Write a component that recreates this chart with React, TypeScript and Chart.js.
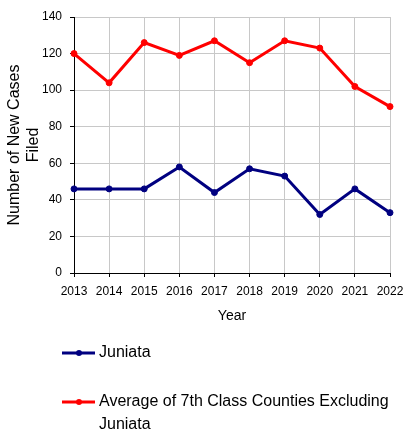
import React, { useEffect, useRef } from "react";
import { Chart, registerables } from "chart.js";

Chart.register(...registerables);

const years = ["2013", "2014", "2015", "2016", "2017", "2018", "2019", "2020", "2021", "2022"];
const juniata = [46, 46, 46, 58, 44, 57, 53, 32, 46, 33];
const avg7th = [120, 104, 126, 119, 127, 115, 127, 123, 102, 91];
const seriesNames = ["Juniata", "Average of 7th Class Counties Excluding Juniata"];
const legendLines = [["Juniata"], ["Average of 7th Class Counties Excluding", "Juniata"]];
const yTitle = ["Number of New Cases", "Filed"];
const xTitle = "Year";

const FONT = "'Liberation Sans', Arial, sans-serif";
const NAVY = "#000080";
const RED = "#ff0000";

const legendPlugin = {
  id: "customLegend",
  afterDraw(chart: any) {
    const ctx = chart.ctx;
    ctx.save();
    const items = [
      { color: NAVY, y: 353, lines: legendLines[0] },
      { color: RED, y: 402, lines: legendLines[1] },
    ];
    for (const it of items) {
      ctx.strokeStyle = it.color;
      ctx.lineWidth = 3;
      ctx.beginPath();
      ctx.moveTo(62, it.y);
      ctx.lineTo(95, it.y);
      ctx.stroke();
      ctx.fillStyle = it.color;
      ctx.beginPath();
      ctx.arc(79, it.y, 3, 0, Math.PI * 2);
      ctx.fill();
      ctx.fillStyle = "#000";
      ctx.font = `16px ${FONT}`;
      ctx.textBaseline = "middle";
      ctx.textAlign = "left";
      it.lines.forEach((t: string, i: number) => {
        ctx.fillText(t, 99, it.y + i * 23);
      });
    }
    ctx.restore();
  },
};

export default function App() {
  const ref = useRef<HTMLCanvasElement | null>(null);
  useEffect(() => {
    document.body.style.margin = "0";
    const chart = new Chart(ref.current as HTMLCanvasElement, {
      type: "line",
      data: {
        labels: years,
        datasets: [
          {
            label: seriesNames[0],
            data: juniata,
            borderColor: NAVY,
            backgroundColor: NAVY,
            borderWidth: 3,
            pointRadius: 3,
            pointBorderWidth: 1,
            pointBackgroundColor: NAVY,
            pointBorderColor: NAVY,
            tension: 0,
          },
          {
            label: seriesNames[1],
            data: avg7th,
            borderColor: RED,
            backgroundColor: RED,
            borderWidth: 3,
            pointRadius: 3,
            pointBorderWidth: 1,
            pointBackgroundColor: RED,
            pointBorderColor: RED,
            tension: 0,
          },
        ],
      },
      options: {
        responsive: false,
        animation: false,
        layout: { padding: { left: 0, right: 22, top: 17, bottom: 109 } },
        plugins: { legend: { display: false }, tooltip: { enabled: false } },
        scales: {
          x: {
            grid: { color: "#c8c8c8", lineWidth: 1, tickColor: "#000", tickLength: 4, drawTicks: true },
            border: { color: "#000", width: 1 },
            ticks: { color: "#000", font: { family: FONT, size: 12 }, padding: 7, maxRotation: 0, autoSkip: false },
            title: { display: true, text: xTitle, color: "#000", font: { family: FONT, size: 14 }, padding: 0 },
            afterFit: (s: any) => { s.height = 52; },
          },
          y: {
            min: 0,
            max: 140,
            grid: { color: "#c8c8c8", lineWidth: 1, tickColor: "#000", tickLength: 4, drawTicks: true },
            border: { color: "#000", width: 1 },
            ticks: { stepSize: 20, color: "#000", font: { family: FONT, size: 12 }, padding: 8 },
            title: { display: true, text: yTitle, color: "#000", font: { family: FONT, size: 16 }, padding: { top: 5, bottom: 0 } },
            afterFit: (s: any) => { s.width = 74; },
          },
        },
      },
      plugins: [legendPlugin],
    } as any);
    return () => chart.destroy();
  }, []);
  return <canvas ref={ref} width={412} height={434} style={{ display: "block" }} />;
}
